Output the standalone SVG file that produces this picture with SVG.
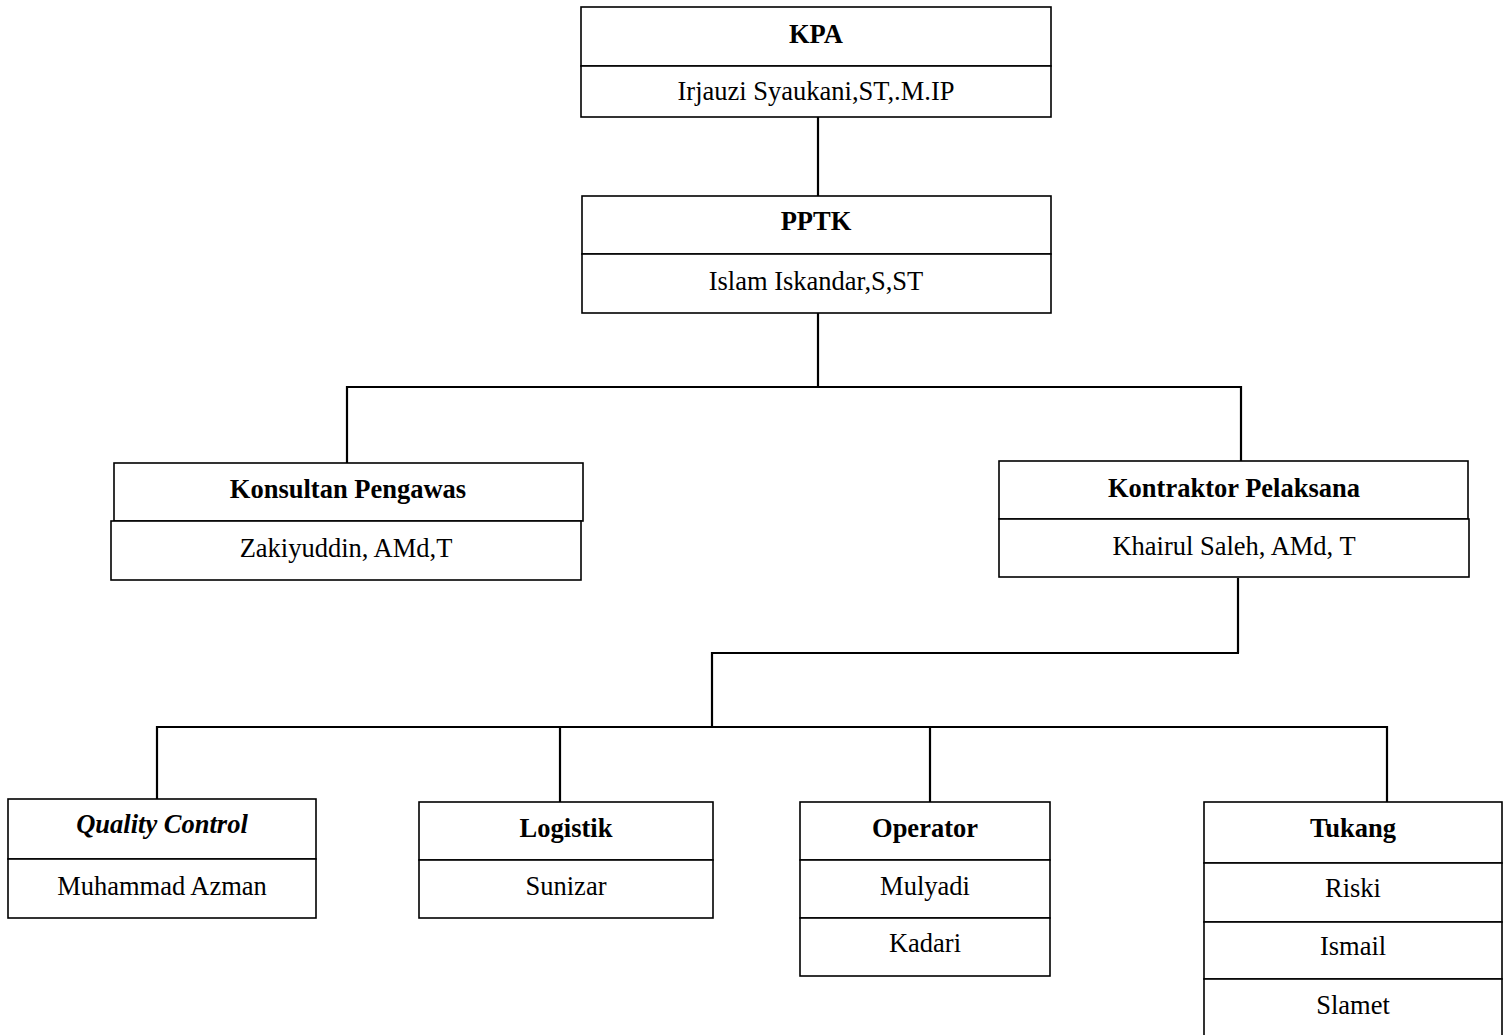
<svg xmlns="http://www.w3.org/2000/svg" width="1510" height="1035" viewBox="0 0 1510 1035">
<style>
rect{fill:#fff;stroke:#000;stroke-width:1.6}
text{font-family:"Liberation Serif","Times New Roman",serif;font-size:26.5px;fill:#000;text-anchor:middle}
.h{font-weight:bold}
.i{font-style:italic}
#connectors line{stroke:#000;stroke-width:2.2}
</style>
<rect x="0" y="0" width="1510" height="1035" style="stroke:none"/>
<g id="connectors">
<line x1="818" y1="117" x2="818" y2="196"/>
<line x1="818" y1="313" x2="818" y2="387"/>
<line x1="346" y1="387" x2="1242" y2="387"/>
<line x1="347" y1="386" x2="347" y2="463"/>
<line x1="1241" y1="386" x2="1241" y2="461"/>
<line x1="1238" y1="578" x2="1238" y2="653"/>
<line x1="711" y1="653" x2="1239" y2="653"/>
<line x1="712" y1="652" x2="712" y2="727"/>
<line x1="156" y1="727" x2="1388" y2="727"/>
<line x1="157" y1="726" x2="157" y2="799"/>
<line x1="560" y1="726" x2="560" y2="802"/>
<line x1="930" y1="726" x2="930" y2="802"/>
<line x1="1387" y1="726" x2="1387" y2="802"/>
</g>
<g id="kpa">
<rect x="581" y="7" width="470" height="59"/>
<rect x="581" y="66" width="470" height="51"/>
<text class="h" x="816" y="43">KPA</text>
<text x="816" y="100">Irjauzi Syaukani,ST,.M.IP</text>
</g>
<g id="pptk">
<rect x="582" y="196" width="469" height="58"/>
<rect x="582" y="254" width="469" height="59"/>
<text class="h" x="816" y="230">PPTK</text>
<text x="816" y="290">Islam Iskandar,S,ST</text>
</g>
<g id="konsultan">
<rect x="114" y="463" width="469" height="58"/>
<rect x="111" y="521" width="470" height="59"/>
<text class="h" x="348" y="498">Konsultan Pengawas</text>
<text x="346" y="557">Zakiyuddin, AMd,T</text>
</g>
<g id="kontraktor">
<rect x="999" y="461" width="469" height="58"/>
<rect x="999" y="519" width="470" height="58"/>
<text class="h" x="1234" y="497">Kontraktor Pelaksana</text>
<text x="1234" y="555">Khairul Saleh, AMd, T</text>
</g>
<g id="qc">
<rect x="8" y="799" width="308" height="60"/>
<rect x="8" y="859" width="308" height="59"/>
<text class="h i" x="162" y="833">Quality Control</text>
<text x="162" y="895">Muhammad Azman</text>
</g>
<g id="logistik">
<rect x="419" y="802" width="294" height="58"/>
<rect x="419" y="860" width="294" height="58"/>
<text class="h" x="566" y="837">Logistik</text>
<text x="566" y="895">Sunizar</text>
</g>
<g id="operator">
<rect x="800" y="802" width="250" height="58"/>
<rect x="800" y="860" width="250" height="58"/>
<rect x="800" y="918" width="250" height="58"/>
<text class="h" x="925" y="837">Operator</text>
<text x="925" y="895">Mulyadi</text>
<text x="925" y="952">Kadari</text>
</g>
<g id="tukang">
<rect x="1204" y="802" width="298" height="61"/>
<rect x="1204" y="863" width="298" height="59"/>
<rect x="1204" y="922" width="298" height="57"/>
<rect x="1204" y="979" width="298" height="62"/>
<text class="h" x="1353" y="837">Tukang</text>
<text x="1353" y="897">Riski</text>
<text x="1353" y="955">Ismail</text>
<text x="1353" y="1014">Slamet</text>
</g>
</svg>
